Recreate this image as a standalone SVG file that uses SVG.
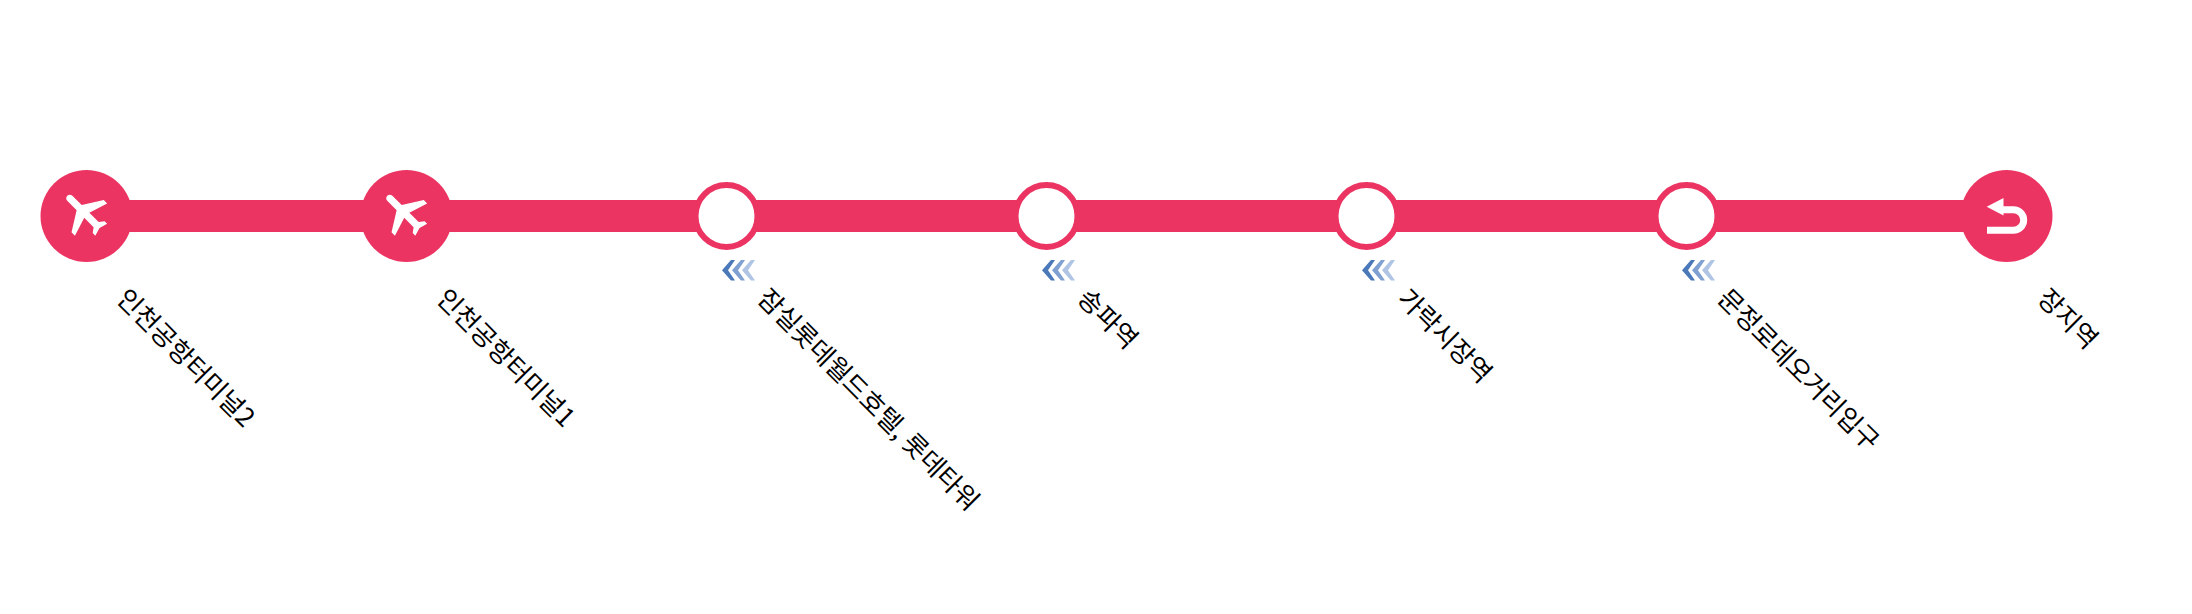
<svg xmlns="http://www.w3.org/2000/svg" xmlns:xlink="http://www.w3.org/1999/xlink" width="2192" height="614" viewBox="0 0 2192 614">
<style>
.big{fill:#ec3463}
.hollow{fill:#fff;stroke:#ec3463;stroke-width:6}
.label{font-family:"Noto Sans CJK KR","Noto Sans",sans-serif;font-size:26px;fill:#000}
.ret{fill:none;stroke:#fff;stroke-width:7}
</style>
<defs>
<path id="plane" fill="#fff" transform="rotate(-45 12 12)" d="M21 16v-2l-8-5V3.5c0-.83-.67-1.5-1.5-1.5S10 2.67 10 3.5V9l-8 5v2l8-2.5V19l-2 1.5V22l3.5-1 3.5 1v-1.5L13 19v-5.5l8 2.5z"/>
<g id="chev">
<polygon points="0,10.3 9,0 13,0 6,10.3 13,20.6 9,20.6" fill="#4a78b8"/>
<polygon points="0,10.3 9,0 13,0 6,10.3 13,20.6 9,20.6" fill="#7fa0d0" transform="translate(10,0)"/>
<polygon points="0,10.3 9,0 13,0 6,10.3 13,20.6 9,20.6" fill="#b0c5e4" transform="translate(20,0)"/>
</g>
</defs>
<g id="connectors"><rect x="86.5" y="200" width="1920" height="32" fill="#ec3463"/></g>
<g id="n1"><circle class="big" cx="86.5" cy="216" r="46"/><use xlink:href="#plane" href="#plane" transform="translate(56.3,183.1) scale(2.4)"/><text class="label" transform="translate(115,300) rotate(45)">인천공항터미널2</text></g>
<g id="n2"><circle class="big" cx="406.5" cy="216" r="46"/><use xlink:href="#plane" href="#plane" transform="translate(376.3,183.1) scale(2.4)"/><text class="label" transform="translate(435,300) rotate(45)">인천공항터미널1</text></g>
<g id="n3"><circle class="hollow" cx="726.5" cy="216" r="31"/><use xlink:href="#chev" href="#chev" x="722" y="260"/><text class="label" transform="translate(756,300) rotate(45)">잠실롯데월드호텔, 롯데타워</text></g>
<g id="n4"><circle class="hollow" cx="1046.5" cy="216" r="31"/><use xlink:href="#chev" href="#chev" x="1042" y="260"/><text class="label" transform="translate(1076,300) rotate(45)">송파역</text></g>
<g id="n5"><circle class="hollow" cx="1366.5" cy="216" r="31"/><use xlink:href="#chev" href="#chev" x="1362" y="260"/><text class="label" transform="translate(1396,300) rotate(45)">가락시장역</text></g>
<g id="n6"><circle class="hollow" cx="1686.5" cy="216" r="31"/><use xlink:href="#chev" href="#chev" x="1682" y="260"/><text class="label" transform="translate(1716,300) rotate(45)">문정로데오거리입구</text></g>
<g id="n7"><circle class="big" cx="2006.5" cy="216" r="46"/><polygon points="1986.7,206.7 2003.5,198 2003.5,215.5" fill="#fff"/><path class="ret" d="M2002 209.7H2013.4A10.3 10.3 0 0 1 2013.4 230.3H1987"/><text class="label" transform="translate(2036,300) rotate(45)">장지역</text></g>
</svg>
